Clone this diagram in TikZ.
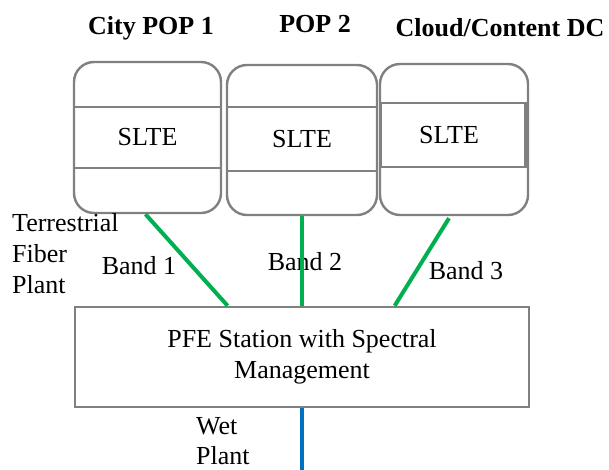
\documentclass[tikz,border=0pt]{standalone}
\usepackage{fontspec}
\setmainfont{Liberation Serif}
\usetikzlibrary{calc}
\definecolor{boxgray}{RGB}{128,128,128}
\definecolor{bandgreen}{RGB}{0,176,80}
\definecolor{wetblue}{RGB}{0,112,192}
\tikzset{
  popbox/.style={draw=boxgray, line width=2.4pt, rounded corners=20pt, inner sep=0pt},
  sltebox/.style={draw=boxgray, line width=2.4pt, inner sep=0pt, font=\fontsize{26}{31}\selectfont},
  pfebox/.style={draw=boxgray, line width=2.4pt, inner sep=0pt, align=center, font=\fontsize{26}{31}\selectfont},
  title/.style={inner sep=0pt, font=\fontsize{26}{31}\selectfont\bfseries},
  lbl/.style={inner sep=0pt, font=\fontsize{26}{31}\selectfont},
  band/.style={draw=bandgreen, line width=4pt},
  wet/.style={draw=wetblue, line width=4pt},
}
\begin{document}
\begin{tikzpicture}[x=1pt,y=-1pt]
\useasboundingbox (0,0) rectangle (609,470);
% titles
\node[title] (t1) at (151,28) {City POP 1};
\node[title] (t2) at (315,24) {POP 2};
\node[title] (t3) at (500,28) {Cloud/Content DC};
% POP boxes
\node[popbox, minimum width=147, minimum height=151] (pop1) at (147.5,137.5) {};
\node[popbox, minimum width=150, minimum height=150] (pop2) at (302,140) {};
\node[popbox, minimum width=148, minimum height=151] (pop3) at (454,139.5) {};
% SLTE bands
\node[sltebox, minimum width=147, minimum height=61] (s1) at (147.5,137.5) {SLTE};
\node[sltebox, minimum width=150, minimum height=64] (s2) at (302,139) {SLTE};
\node[sltebox, minimum width=144, minimum height=64] (s3) at (453,135) {\hspace*{-8pt}SLTE};
\draw[boxgray, line width=3.6pt] (s3.north east) -- (s3.south east);
% PFE station
\node[pfebox, minimum width=454, minimum height=100] (pfe) at (302,357)
  {PFE Station with Spectral\\Management};
% side labels
\node[lbl, align=left, anchor=west, font=\fontsize{26}{31}\selectfont] (terr) at (12,254)
  {Terrestrial\\Fiber\\Plant};
\node[lbl, align=left, anchor=west, font=\fontsize{26}{30}\selectfont] (wetlbl) at (196,441)
  {Wet\\Plant};
% band labels
\node[lbl] (b1) at (139,266) {Band 1};
\node[lbl] (b2) at (305,262) {Band 2};
\node[lbl] (b3) at (466,271) {Band 3};
% connectors
\draw[band] ($(pop1.south)+(-2,0)$) -- ($(pfe.north west)!0.337!(pfe.north east)$);
\draw[band] (pop2.south) -- (pfe.north);
\draw[band] ($(pop3.south)+(-5,2)$) -- ($(pfe.north west)!0.703!(pfe.north east)$);
\coordinate (wetend) at (302,472);
\draw[wet] (pfe.south) -- (wetend);
\end{tikzpicture}
\end{document}
